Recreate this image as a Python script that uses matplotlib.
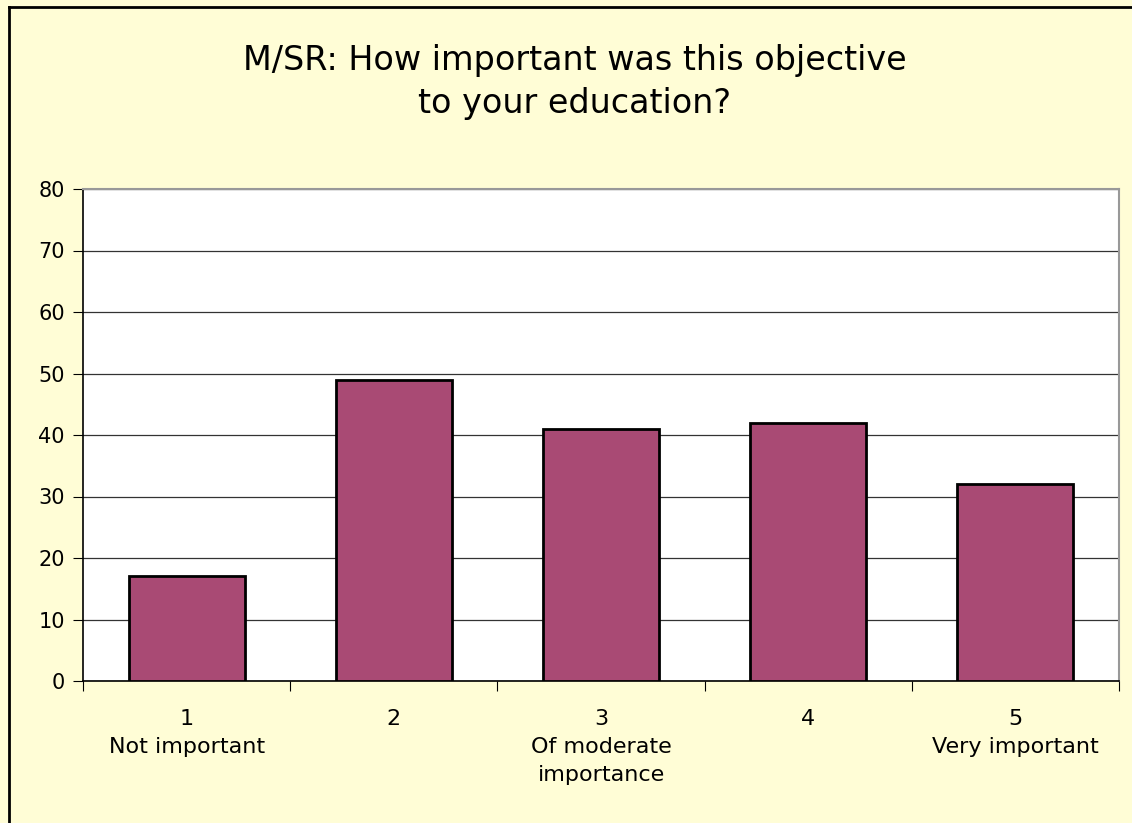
import matplotlib.pyplot as plt
from matplotlib.lines import Line2D

# Data
categories = ["1\nNot important", "2", "3\nOf moderate\nimportance", "4", "5\nVery important"]
counts = [17, 49, 41, 42, 32]
yticks = [0, 10, 20, 30, 40, 50, 60, 70, 80]

bg = "#FFFDD6"
bar_color = "#A94A74"

fig = plt.figure(figsize=(11.32, 8.23), dpi=100, facecolor=bg)
ax = fig.add_axes([83 / 1132, 1 - 681 / 823, (1119 - 83) / 1132, (681 - 189) / 823])
ax.set_facecolor("white")

x = list(range(len(categories)))
ax.bar(x, counts, width=0.56, color=bar_color, edgecolor="black", linewidth=2, zorder=3)

ax.set_xlim(-0.5, len(categories) - 0.5)
ax.set_ylim(0, 80)
ax.set_yticks(yticks)
ax.yaxis.grid(True, color="#333333", linewidth=0.9, zorder=0)

# x ticks sit between the categories, labels in the middle
ax.set_xticks([i - 0.5 for i in range(len(categories) + 1)])
ax.set_xticklabels([])
ax.set_xticks(x, minor=True)
ax.set_xticklabels(categories, minor=True, fontsize=16, linespacing=1.5)
ax.tick_params(axis="x", which="minor", length=0, pad=20)
ax.tick_params(axis="x", which="major", length=7, direction="out")
ax.tick_params(axis="y", labelsize=15, length=7, direction="out", pad=6)

for side in ["top", "right"]:
    ax.spines[side].set_color("#999999")
    ax.spines[side].set_linewidth(1.5)
for side in ["left", "bottom"]:
    ax.spines[side].set_color("black")
    ax.spines[side].set_linewidth(1.2)

fig.text(575 / 1132, 1 - 82 / 823, "M/SR: How important was this objective\nto your education?",
         ha="center", va="center", fontsize=24, linespacing=1.4)

# frame lines around the chart area
fig.add_artist(Line2D([9 / 1132, 9 / 1132], [0, 1 - 7 / 823], color="black", linewidth=2))
fig.add_artist(Line2D([9 / 1132, 1], [1 - 7 / 823, 1 - 7 / 823], color="black", linewidth=2))

fig.savefig("out.png", dpi=100, facecolor=bg)
